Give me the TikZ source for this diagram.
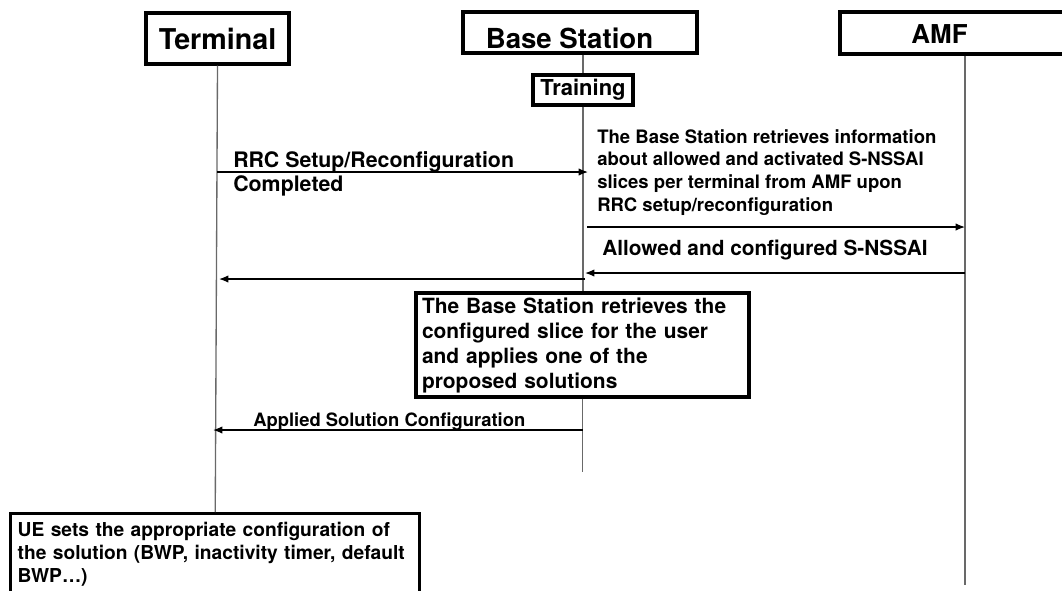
\documentclass[tikz,border=0pt]{standalone}
\usepackage{fontspec}
\setmainfont{TeX Gyre Heros}
\usetikzlibrary{arrows.meta, math, positioning}
\newdimen\pxu
\pxu=0.75pt
\definecolor{lifegray}{RGB}{105,105,105}

\begin{document}
\begin{tikzpicture}[x=0.75pt, y=-0.75pt,
  headbox/.style={draw, line width=2.6pt, inner sep=0pt},
  msg/.style={-{Latex[length=7pt,width=5.5pt]}, line width=0.95pt},
  lifeline/.style={color=lifegray, line width=1pt},
  fnt/.style n args={2}{font=\fontsize{#1}{#2}\selectfont\bfseries}]
\tikzmath{
\xterm=217;%terminal lifeline
\xbs=585;%base station lifeline
\xamf=965;%AMF lifeline
}
\useasboundingbox (0,0) rectangle (1062,590);

% heads
\node[headbox, minimum width=143\pxu, minimum height=51\pxu, fnt={21.5pt}{25pt}] (term) at (217.5,38.5) {Terminal};
\node[headbox, minimum width=234\pxu, minimum height=41\pxu] (bs) at (580,32.5) {};
\node[fnt={20.7pt}{25pt}] (bstitle) at (569.5,38.5) {Base Station};
\node[headbox, minimum width=250\pxu, minimum height=42\pxu] (amf) at (965,33) {};
\node[fnt={19.5pt}{23pt}] (amftitle) at (939.5,34) {AMF};
\node[headbox, minimum width=100\pxu, minimum height=30\pxu, fnt={16.5pt}{20pt}] (train) at (583,90) {Training};

% boxes
\node[headbox, inner xsep=6\pxu, text width=321\pxu, minimum height=104\pxu, align=left, fnt={15.7pt}{18.75pt}] (proc) at (582.5,345) {The Base Station retrieves the\\configured slice for the user\\and applies one of the\\proposed solutions};
\node[headbox, anchor=north west, inner xsep=7\pxu, text width=395\pxu, minimum height=81\pxu, align=left, fnt={14.4pt}{17.6pt}] (ue) at (9,512) {UE sets the appropriate configuration of\\the solution (BWP, inactivity timer, default\\BWP\ldots)};

% lifelines
\coordinate (bsend) at (582.5,472);
\coordinate (amfend) at (\xamf,585);
\draw[lifeline] (term.south) -- (ue.north);
\draw[lifeline] (bs.south -| train.north) -- (train.north);
\draw[lifeline] (train.south) -- (proc.north -| train.south);
\draw[lifeline] (proc.south) -- (bsend);
\draw[lifeline] (amf.south) -- (amfend);

% messages
\coordinate (rrcT) at (\xterm,172);
\coordinate (rrcB) at (\xbs+3,172);
\coordinate (reqB) at (\xbs+2,227);
\coordinate (reqA) at (\xamf,227);
\coordinate (ansA) at (\xamf,273);
\coordinate (ansB) at (\xbs,273);
\coordinate (fwdB) at (\xbs,279);
\coordinate (fwdT) at (\xterm+2,279);
\coordinate (appB) at (582.5,430);
\coordinate (appT) at (\xterm-4,430);

\draw[msg] (rrcT) -- (rrcB);
\draw[msg] (reqB) -- (reqA);
\draw[msg] (ansA) -- (ansB);
\draw[msg] (fwdB) -- (fwdT);
\draw[msg] (appB) -- (appT);

% labels
\node[anchor=north west, inner sep=0pt, align=left, fnt={16pt}{18.4pt}] (rrclabel) at (233,151) {RRC Setup/Reconfiguration\\Completed};
\node[anchor=north west, inner sep=0pt, align=left, fnt={13.9pt}{17pt}] (info) at (597,129) {The Base Station retrieves information\\about allowed and activated S-NSSAI\\slices per terminal from AMF upon\\RRC setup/reconfiguration};
\node[anchor=north west, inner sep=0pt, fnt={15.6pt}{18pt}] (anslabel) at (602,240) {Allowed and configured S-NSSAI};
\node[anchor=base west, inner sep=0pt, fnt={13.8pt}{16pt}] (applabel) at (253,426) {Applied Solution Configuration};
\end{tikzpicture}
\end{document}
